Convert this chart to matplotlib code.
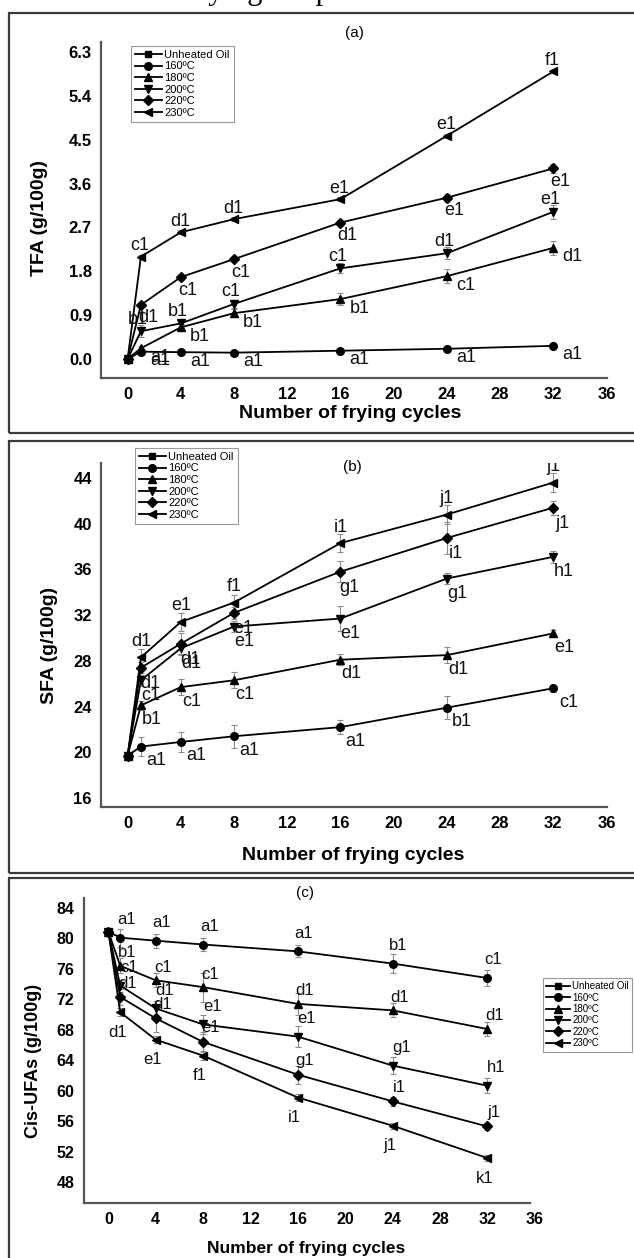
"""
Three stacked panels: TFA, SFA and cis-UFA content vs. number of frying cycles
for oil heated at different temperatures.
"""

import matplotlib
matplotlib.use("Agg")
import matplotlib.pyplot as plt
from matplotlib.patches import Rectangle

plt.rcParams["font.family"] = ["Liberation Sans", "DejaVu Sans"]

# ---- data -----------------------------------------------------------------
cycles = [0, 1, 4, 8, 16, 24, 32]
series_names = ["160ºC", "180ºC", "200ºC", "220ºC", "230ºC"]
unheated_name = "Unheated Oil"

# (a) trans fatty acids, g/100g
tfa_unheated = 0.0
tfa_160 = [0.0, 0.15, 0.14, 0.13, 0.17, 0.21, 0.27]
tfa_180 = [0.0, 0.22, 0.65, 0.94, 1.23, 1.70, 2.28]
tfa_200 = [0.0, 0.57, 0.73, 1.13, 1.86, 2.17, 3.02]
tfa_220 = [0.0, 1.11, 1.68, 2.05, 2.80, 3.31, 3.91]
tfa_230 = [0.0, 2.10, 2.60, 2.87, 3.28, 4.58, 5.90]
tfa_err_160 = [0, 0.02, 0.02, 0.02, 0.03, 0.03, 0.03]
tfa_err_180 = [0, 0.05, 0.06, 0.08, 0.12, 0.14, 0.14]
tfa_err_200 = [0, 0.12, 0.05, 0.08, 0.10, 0.12, 0.14]
tfa_err_220 = [0, 0.04, 0.05, 0.04, 0.05, 0.08, 0.10]
tfa_err_230 = [0, 0.04, 0.04, 0.04, 0.04, 0.04, 0.04]
tfa_let_160 = ["a1", "a1", "a1", "a1", "a1", "a1"]
tfa_let_180 = ["a1", "b1", "b1", "b1", "c1", "d1"]
tfa_let_200 = ["b1", "b1", "c1", "c1", "d1", "e1"]
tfa_let_220 = ["d1", "c1", "c1", "d1", "e1", "e1"]
tfa_let_230 = ["c1", "d1", "d1", "e1", "e1", "f1"]

# (b) saturated fatty acids, g/100g
sfa_unheated = 19.7
sfa_160 = [19.7, 20.5, 20.9, 21.4, 22.2, 23.9, 25.6]
sfa_180 = [19.7, 24.1, 25.7, 26.3, 28.1, 28.5, 30.4]
sfa_200 = [19.7, 26.3, 29.1, 31.0, 31.7, 35.2, 37.1]
sfa_220 = [19.7, 27.4, 29.5, 32.2, 35.8, 38.75, 41.4]
sfa_230 = [19.7, 28.3, 31.4, 33.1, 38.3, 40.8, 43.6]
sfa_err_160 = [0, 0.8, 0.9, 1.0, 0.6, 1.0, 0.3]
sfa_err_180 = [0, 0.4, 0.7, 0.7, 0.5, 0.7, 0.3]
sfa_err_200 = [0, 0.5, 0.6, 0.5, 1.1, 0.5, 0.5]
sfa_err_220 = [0, 0.5, 0.9, 0.5, 0.9, 1.4, 0.6]
sfa_err_230 = [0, 0.7, 0.8, 0.7, 0.8, 0.8, 0.8]
sfa_let_160 = ["a1", "a1", "a1", "a1", "b1", "c1"]
sfa_let_180 = ["b1", "c1", "c1", "d1", "d1", "e1"]
sfa_let_200 = ["c1", "d1", "e1", "e1", "g1", "h1"]
sfa_let_220 = ["d1", "d1", "e1", "g1", "i1", "j1"]
sfa_let_230 = ["d1", "e1", "f1", "i1", "j1", "j1"]

# (c) cis unsaturated fatty acids, g/100g
ufa_unheated = 80.9
ufa_160 = [80.9, 80.1, 79.7, 79.2, 78.3, 76.7, 74.8]
ufa_180 = [80.9, 76.4, 74.5, 73.6, 71.4, 70.55, 68.1]
ufa_200 = [80.9, 73.8, 70.8, 68.7, 67.1, 63.3, 60.65]
ufa_220 = [80.9, 72.3, 69.5, 66.4, 62.1, 58.6, 55.3]
ufa_230 = [80.9, 70.3, 66.7, 64.6, 59.1, 55.4, 51.15]
ufa_err_160 = [0, 1.2, 0.9, 0.8, 0.8, 1.2, 1.1]
ufa_err_180 = [0, 1.0, 0.9, 1.9, 1.4, 0.9, 0.9]
ufa_err_200 = [0, 0.8, 1.0, 1.2, 1.4, 1.1, 1.0]
ufa_err_220 = [0, 1.0, 1.8, 1.3, 1.2, 0.6, 0.5]
ufa_err_230 = [0, 0.5, 0.5, 0.6, 0.4, 0.4, 0.4]
ufa_let_160 = ["a1", "a1", "a1", "a1", "b1", "c1"]
ufa_let_180 = ["b1", "c1", "c1", "d1", "d1", "d1"]
ufa_let_200 = ["c1", "d1", "e1", "e1", "g1", "h1"]
ufa_let_220 = ["d1", "d1", "e1", "g1", "i1", "j1"]
ufa_let_230 = ["d1", "e1", "f1", "i1", "j1", "k1"]

# ---- layout (pixels of the 634x1258 canvas) -------------------------------
W, H = 634, 1258
markers = ["o", "^", "v", "D", "<"]
msizes = [5.5, 6, 6, 4.8, 6]


def fx(px):
    return px / W


def fy(py):
    return 1 - py / H


def add_axes_px(fig, left, top, right, bottom):
    return fig.add_axes([fx(left), fy(bottom), fx(right - left), (bottom - top) / H])


def draw_panel(ax, unheated, values, errors, letters, offsets, let_size):
    ax.plot([0], [unheated], color="black", marker="s", ms=5, lw=1.3,
            label=unheated_name, zorder=3)
    for i, name in enumerate(series_names):
        ax.errorbar(cycles, values[i], yerr=errors[i], fmt="none",
                    ecolor="#8c8c8c", elinewidth=0.8, capsize=2.5,
                    capthick=0.8, zorder=1.5)
        ax.plot(cycles, values[i], color="black", lw=1.3, marker=markers[i],
                ms=msizes[i], label=name, zorder=3)
        dx, dy = offsets[i]
        for x, y, t in zip(cycles[1:], values[i][1:], letters[i]):
            ax.annotate(t, (x, y), xytext=(dx * 0.72, -dy * 0.72),
                        textcoords="offset points", ha="center", va="center",
                        fontsize=let_size, color="#111111", clip_on=True,
                        zorder=4)


def style_axes(ax, xlim, ylim, yticks, yfmt, tick_size, xbound):
    ax.set_xlim(*xlim)
    ax.set_ylim(*ylim)
    ax.set_xticks(range(0, 37, 4))
    ax.set_yticks(yticks)
    ax.set_yticklabels([yfmt % v for v in yticks])
    for s in ["top", "right"]:
        ax.spines[s].set_visible(False)
    for s in ["left", "bottom"]:
        ax.spines[s].set_color("#555555")
        ax.spines[s].set_linewidth(1.6)
    ax.spines["bottom"].set_bounds(xlim[0], xbound)
    ax.tick_params(length=0, pad=6.5, labelsize=tick_size)
    for lab in ax.get_xticklabels() + ax.get_yticklabels():
        lab.set_fontweight("bold")
    ax.patch.set_alpha(0)


def add_legend(ax, left, top, size):
    leg = ax.legend(loc="upper left", bbox_to_anchor=(fx(left), fy(top)),
                    bbox_transform=ax.figure.transFigure, fontsize=size,
                    frameon=True, fancybox=False, framealpha=1,
                    edgecolor="#9a9a9a", handlelength=2.4, handletextpad=0.25,
                    labelspacing=0.14, borderpad=0.35, borderaxespad=0)
    leg.get_frame().set_linewidth(0.8)


def main():
    fig = plt.figure(figsize=(W / 100, H / 100), dpi=100)

    # caption text cut off by the top edge
    fig.text(fx(188), fy(-1), "frying temperatures", family="Liberation Serif",
             fontsize=22, ha="left", va="baseline")

    # panel frames
    for top, bottom in [(13, 433), (441, 873), (878, 1270)]:
        fig.patches.append(Rectangle((fx(9), fy(bottom)), fx(640 - 9),
                                     (bottom - top) / H, transform=fig.transFigure,
                                     fill=False, edgecolor="#3a3a3a", lw=1.6))

    # ---- (a) TFA ---------------------------------------------------------
    ax1 = add_axes_px(fig, 101, 42, 606.5, 378)
    draw_panel(ax1, tfa_unheated,
               [tfa_160, tfa_180, tfa_200, tfa_220, tfa_230],
               [tfa_err_160, tfa_err_180, tfa_err_200, tfa_err_220, tfa_err_230],
               [tfa_let_160, tfa_let_180, tfa_let_200, tfa_let_220, tfa_let_230],
               [(19, 9), (19, 9), (-3, -12), (7, 13), (-1, -11)], 13)
    style_axes(ax1, (-2, 36), (-0.39, 6.505), [0, 0.9, 1.8, 2.7, 3.6, 4.5, 5.4, 6.3],
               "%.1f", 12, 36)
    ax1.set_xlabel("Number of frying cycles", fontsize=14, fontweight="bold", va="center")
    ax1.xaxis.set_label_coords(fx(350), fy(414), transform=fig.transFigure)
    ax1.set_ylabel("TFA (g/100g)", fontsize=14, fontweight="bold", va="center")
    ax1.yaxis.set_label_coords(fx(40), fy(218), transform=fig.transFigure)
    fig.text(fx(354), fy(33), "(a)", fontsize=11, ha="center", va="center")
    add_legend(ax1, 131, 46, 8)

    # ---- (b) SFA ---------------------------------------------------------
    ax2 = add_axes_px(fig, 101, 463, 606.5, 807)
    draw_panel(ax2, sfa_unheated,
               [sfa_160, sfa_180, sfa_200, sfa_220, sfa_230],
               [sfa_err_160, sfa_err_180, sfa_err_200, sfa_err_220, sfa_err_230],
               [sfa_let_160, sfa_let_180, sfa_let_200, sfa_let_220, sfa_let_230],
               [(15, 14), (11, 14), (10, 15), (9, 16), (0, -16)], 13)
    style_axes(ax2, (-2, 36), (15.21, 45.31), list(range(16, 45, 4)), "%d", 12, 36)
    ax2.set_xlabel("Number of frying cycles", fontsize=14, fontweight="bold", va="center")
    ax2.xaxis.set_label_coords(fx(353), fy(855), transform=fig.transFigure)
    ax2.set_ylabel("SFA (g/100g)", fontsize=14, fontweight="bold", va="center")
    ax2.yaxis.set_label_coords(fx(50), fy(645), transform=fig.transFigure)
    fig.text(fx(352), fy(467), "(b)", fontsize=11, ha="center", va="center")
    add_legend(ax2, 135, 448, 8)

    # ---- (c) cis-UFA -----------------------------------------------------
    ax3 = add_axes_px(fig, 83.5, 898, 534.6, 1203)
    draw_panel(ax3, ufa_unheated,
               [ufa_160, ufa_180, ufa_200, ufa_220, ufa_230],
               [ufa_err_160, ufa_err_180, ufa_err_200, ufa_err_220, ufa_err_230],
               [ufa_let_160, ufa_let_180, ufa_let_200, ufa_let_220, ufa_let_230],
               [(6, -18), (7, -13), (9, -18), (7, -14), (-3, 20)], 12)
    style_axes(ax3, (-2.1, 36), (45.24, 85.31), list(range(48, 85, 4)), "%d", 11.5, 35.6)
    ax3.set_xlabel("Number of frying cycles", fontsize=12.5, fontweight="bold", va="center")
    ax3.xaxis.set_label_coords(fx(306), fy(1249), transform=fig.transFigure)
    ax3.set_ylabel("Cis-UFAs (g/100g)", fontsize=13, fontweight="bold", va="center")
    ax3.yaxis.set_label_coords(fx(34), fy(1061), transform=fig.transFigure)
    fig.text(fx(305), fy(893), "(c)", fontsize=11, ha="center", va="center")
    add_legend(ax3, 543, 978, 7)

    fig.savefig("out.png", dpi=100)


if __name__ == "__main__":
    main()
